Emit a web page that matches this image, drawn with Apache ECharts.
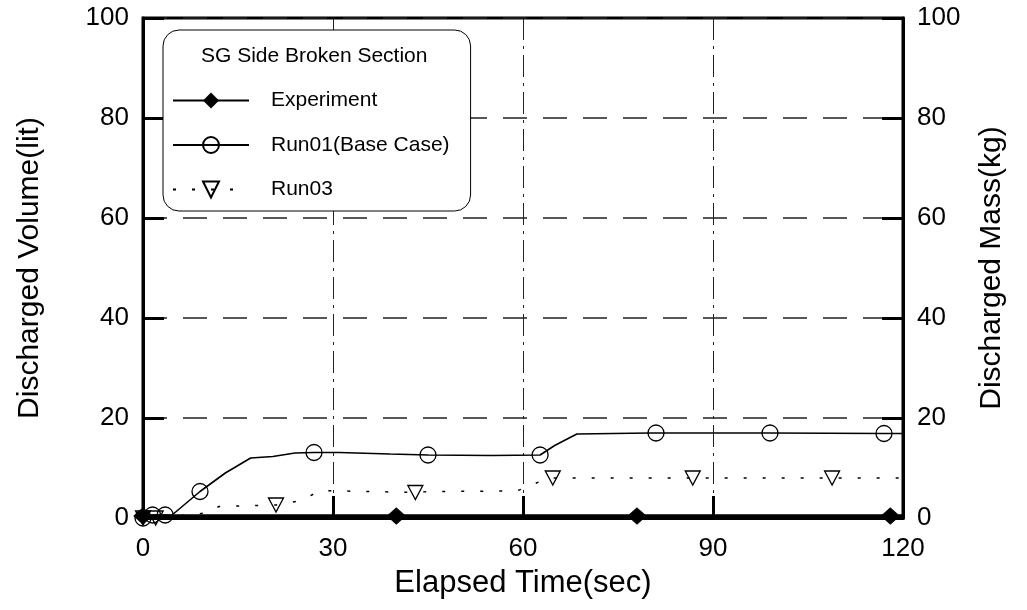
<!DOCTYPE html>
<html>
<head>
<meta charset="utf-8">
<script src="https://cdn.jsdelivr.net/npm/echarts@6/dist/echarts.min.js"></script>
<style>
html,body{margin:0;padding:0;background:#fff;}
#chart{width:1027px;height:610px;}
</style>
</head>
<body>
<div id="chart"></div>
<script>
// ---- data ----
const xTicks = [0, 30, 60, 90, 120];
const yTicks = [0, 20, 40, 60, 80, 100];

const seriesNames = ['Experiment', 'Run01(Base Case)', 'Run03'];

const expCurve = [[0, 0.4], [20, 0.4], [60, 0.4], [100, 0.4], [120, 0.4]];
const expMarks = [[0, 0.4], [40, 0.4], [78, 0.4], [118, 0.4]];

const run01Curve = [[0, 0], [4.5, 0.5], [13, 9], [17, 12], [20.5, 12.3], [24, 13], [31, 13.1],
  [39, 12.8], [55, 12.5], [65, 14.5], [68.5, 16.8], [80, 17], [120, 16.9]];
const run01Marks = [[0, 0], [1.5, 0.6], [3.5, 0.6], [9, 5.3], [27, 13.1], [45, 12.6],
  [62.7, 12.6], [81, 17], [99, 17], [117, 16.9]];

const run03Curve = [[4.5, 0.3], [10, 1], [12, 2.3], [25, 3.5], [28, 5.5], [45, 5.3], [59, 5.4],
  [61, 6.4], [64, 8], [120, 8]];
const run03Marks = [[0, 0], [2, 0], [21, 2.6], [43, 5.1], [64.7, 8], [86.8, 8], [108.8, 8]];

// ---- build series data: curve points without symbol, marked points with symbol ----
function merge(curve, marks) {
  const pts = curve.map(p => ({ value: p, symbol: 'none' }))
    .concat(marks.map(p => ({ value: p })));
  pts.sort((a, b) => a.value[0] - b.value[0]);
  return pts;
}

const FONT = 'Liberation Sans';
const chart = echarts.init(document.getElementById('chart'), null, { renderer: 'canvas' });

function yAxisCfg(name, pos, gap) {
  return {
    type: 'value', position: pos, min: yTicks[0], max: yTicks[yTicks.length - 1], interval: 20,
    name: name, nameLocation: 'middle', nameRotate: 90, nameGap: gap,
    nameTextStyle: { fontSize: 30, color: '#000', fontFamily: FONT },
    axisLine: { show: true, lineStyle: { color: '#000', width: 3 } },
    axisTick: { show: true, inside: true, length: 21, lineStyle: { color: '#000', width: 3 } },
    axisLabel: { fontSize: 26, color: '#000', fontFamily: FONT, margin: 14 },
    splitLine: pos === 'left' ? { show: true, lineStyle: { color: '#222', width: 1.5, type: [24, 16] } } : { show: false }
  };
}

const option = {
  animation: false,
  backgroundColor: '#fff',
  textStyle: { fontFamily: FONT },
  grid: { left: 143, right: 124, top: 18, bottom: 92, show: true, borderColor: '#000', borderWidth: 3, backgroundColor: 'transparent' },
  title: {
    text: 'SG Side Broken Section', left: 196, top: 41,
    textStyle: { fontSize: 21, fontWeight: 'normal', color: '#000', fontFamily: FONT }
  },
  legend: {
    data: seriesNames, orient: 'vertical', left: 163, top: 30,
    padding: [60, 21, 11, 9], itemWidth: 76, itemHeight: 20, itemGap: 23.5,
    borderColor: '#000', borderWidth: 1, borderRadius: 16, backgroundColor: '#fff',
    textStyle: { fontSize: 21, color: '#000', fontFamily: FONT, padding: [0, 0, 0, 17], width: 177, lineHeight: 20 }
  },
  xAxis: {
    type: 'value', min: xTicks[0], max: xTicks[xTicks.length - 1], interval: 30,
    name: 'Elapsed Time(sec)', nameLocation: 'middle', nameGap: 50,
    nameTextStyle: { fontSize: 31, color: '#000', fontFamily: FONT },
    axisLine: { show: true, lineStyle: { color: '#000', width: 3 } },
    axisTick: { show: true, inside: true, length: 22, lineStyle: { color: '#000', width: 3 } },
    axisLabel: { fontSize: 26, color: '#000', fontFamily: FONT, margin: 18 },
    splitLine: { show: true, lineStyle: { color: '#222', width: 1, type: [22, 6, 3, 6] } }
  },
  yAxis: [
    yAxisCfg('Discharged Volume(lit)', 'left', 98),
    yAxisCfg('Discharged Mass(kg)', 'right', 74)
  ],
  series: [
    {
      name: seriesNames[0], type: 'line', yAxisIndex: 0,
      data: merge(expCurve, expMarks),
      symbol: 'diamond', symbolSize: [18, 16],
      lineStyle: { color: '#000', width: 3.5 },
      itemStyle: { color: '#000', borderColor: '#000' },
      z: 5
    },
    {
      name: seriesNames[1], type: 'line', yAxisIndex: 0,
      data: merge(run01Curve, run01Marks),
      symbol: 'circle', symbolSize: 16,
      lineStyle: { color: '#000', width: 1.6 },
      itemStyle: { color: 'rgba(255,255,255,0)', borderColor: '#000', borderWidth: 1.3 },
      z: 4
    },
    {
      name: seriesNames[2], type: 'line', yAxisIndex: 0,
      data: merge(run03Curve, run03Marks),
      symbol: 'triangle', symbolRotate: 180, symbolSize: [15, 14],
      lineStyle: { color: '#000', width: 1.5, type: [3, 16] },
      itemStyle: { color: 'rgba(255,255,255,0)', borderColor: '#000', borderWidth: 1.3 },
      z: 3
    }
  ]
};
chart.setOption(option);
</script>
</body>
</html>
